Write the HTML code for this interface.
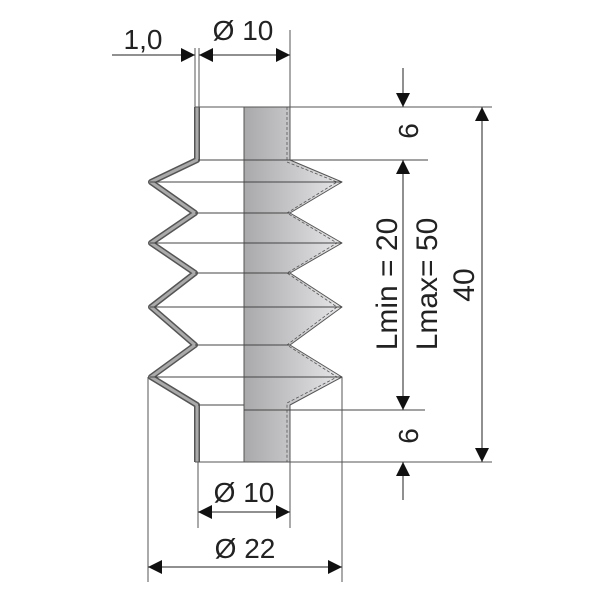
<!DOCTYPE html>
<html><head><meta charset="utf-8"><style>
html,body{margin:0;padding:0;background:#fff;}
svg{display:block;}
text{font-family:"Liberation Sans Narrow","Liberation Sans",sans-serif;font-size:28px;fill:#222;}
</style></head><body>
<svg width="600" height="600" viewBox="0 0 600 600" xmlns="http://www.w3.org/2000/svg">
<defs>
<linearGradient id="g" x1="0" x2="1" y1="0" y2="0">
<stop offset="0" stop-color="#a9a9ab"/><stop offset="1" stop-color="#e6e6e8"/>
</linearGradient>
<marker id="a" viewBox="0 0 10 10" refX="10" refY="5" markerWidth="14" markerHeight="14" markerUnits="userSpaceOnUse" orient="auto-start-reverse">
<path d="M0,0 L10,5 L0,10 z" fill="#111"/></marker>
</defs>
<path d="M244,107 L290,107 L290,160 L342,182 L290,213 L342,243 L290,273 L342,307 L290,345 L342,377 L290,405 L290,462 L244,462 Z" fill="url(#g)" stroke="#555" stroke-width="1" stroke-linejoin="round"/>
<path d="M287,107 L287,162 L337,182 L287,213 L337,243 L287,273 L337,307 L287,345 L337,377 L287,403 L287,462" fill="none" stroke="#555" stroke-width="0.8" stroke-dasharray="3,2"/>
<line x1="244" y1="107" x2="244" y2="462" stroke="#555" stroke-dasharray="3,2"/>
<path d="M197,107 L197,160 L151,182 L195,213 L151,243 L195,273 L151,307 L195,345 L151,377 L197,405 L197,462" fill="none" stroke="#555" stroke-width="6" stroke-linejoin="round"/>
<path d="M197,107 L197,160 L151,182 L195,213 L151,243 L195,273 L151,307 L195,345 L151,377 L197,405 L197,462" fill="none" stroke="#aaa" stroke-width="3" stroke-linejoin="round"/>
<g stroke="#444" stroke-width="1">
<line x1="198" y1="160" x2="428" y2="160"/>
<line x1="150" y1="182" x2="342" y2="182"/>
<line x1="195" y1="213" x2="290" y2="213"/>
<line x1="150" y1="243" x2="342" y2="243"/>
<line x1="195" y1="273" x2="290" y2="273"/>
<line x1="150" y1="307" x2="342" y2="307"/>
<line x1="195" y1="345" x2="290" y2="345"/>
<line x1="150" y1="377" x2="342" y2="377"/>
<line x1="198" y1="405" x2="244" y2="405"/>
<line x1="244" y1="410" x2="425" y2="410"/>
</g>
<g stroke="#555" stroke-width="1" fill="none">
<line x1="195" y1="48" x2="195" y2="107"/>
<line x1="199" y1="48" x2="199" y2="107"/>
<line x1="290" y1="30" x2="290" y2="107"/>
<line x1="195" y1="107" x2="492" y2="107"/>
<line x1="195" y1="462" x2="492" y2="462"/>
<line x1="198" y1="462" x2="198" y2="528"/>
<line x1="290" y1="462" x2="290" y2="528"/>
<line x1="148" y1="377" x2="148" y2="582"/>
<line x1="342" y1="377" x2="342" y2="582"/>
</g>
<g stroke="#222" stroke-width="1" fill="none">
<line x1="112" y1="55" x2="195" y2="55" marker-end="url(#a)"/>
<line x1="199" y1="55" x2="290" y2="55" marker-start="url(#a)" marker-end="url(#a)"/>
<line x1="403" y1="68" x2="403" y2="107" marker-end="url(#a)"/>
<line x1="403" y1="160" x2="403" y2="410" marker-start="url(#a)" marker-end="url(#a)"/>
<line x1="403" y1="500" x2="403" y2="462" marker-end="url(#a)"/>
<line x1="482" y1="107" x2="482" y2="462" marker-start="url(#a)" marker-end="url(#a)"/>
<line x1="198" y1="512" x2="290" y2="512" marker-start="url(#a)" marker-end="url(#a)"/>
<line x1="148" y1="567" x2="342" y2="567" marker-start="url(#a)" marker-end="url(#a)"/>
</g>
<text x="143" y="49" text-anchor="middle">1,0</text>
<text x="243" y="40" text-anchor="middle">Ø 10</text>
<text x="244" y="502" text-anchor="middle">Ø 10</text>
<text x="245" y="558" text-anchor="middle">Ø 22</text>
<text transform="translate(418,131) rotate(-90)" text-anchor="middle">6</text>
<text transform="translate(418,436) rotate(-90)" text-anchor="middle">6</text>
<text transform="translate(397,284) rotate(-90)" text-anchor="middle" style="font-size:30px">Lmin = 20</text>
<text transform="translate(437,284) rotate(-90)" text-anchor="middle" style="font-size:30px">Lmax= 50</text>
<text transform="translate(474,285) rotate(-90)" text-anchor="middle" style="font-size:30px">40</text>
</svg>
</body></html>
